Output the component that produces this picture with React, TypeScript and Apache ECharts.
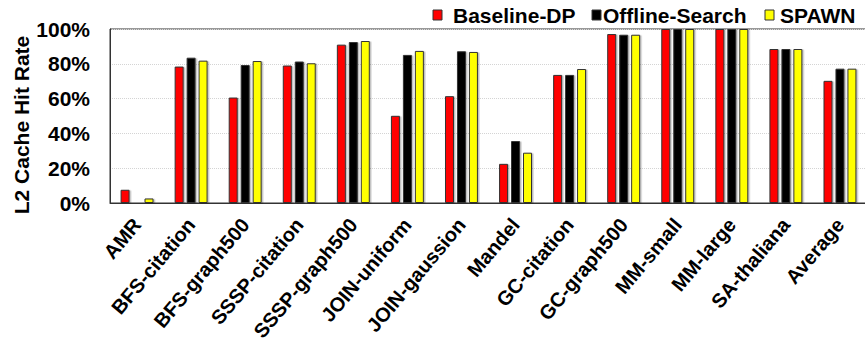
import React, { useEffect, useRef } from "react";
import * as echarts from "echarts";

// Benchmarks on the x axis
const categories = [
  "AMR",
  "BFS-citation",
  "BFS-graph500",
  "SSSP-citation",
  "SSSP-graph500",
  "JOIN-uniform",
  "JOIN-gaussion",
  "Mandel",
  "GC-citation",
  "GC-graph500",
  "MM-small",
  "MM-large",
  "SA-thaliana",
  "Average",
];

// L2 cache hit rate (%) per benchmark
const baselineDP = [7.6, 78.4, 60.6, 79.0, 91.0, 50.1, 61.4, 22.5, 73.6, 97.1, 100, 100, 88.5, 70.2];
const offlineSearch = [0, 83.5, 79.3, 81.3, 92.5, 85.1, 87.2, 35.6, 73.6, 96.7, 100, 100, 88.5, 77.2];
const spawn = [2.6, 81.8, 81.6, 80.3, 93.1, 87.4, 86.8, 28.9, 77.0, 96.7, 100, 100, 88.5, 77.2];

const seriesNames = ["Baseline-DP", "Offline-Search", "SPAWN"];
const seriesColors = ["#ff0000", "#000000", "#ffff00"];
const yTicks = [0, 20, 40, 60, 80, 100];

const FONT = "'Liberation Sans', Arial, Helvetica, sans-serif";
const EDGE = "#333333";

// legend layout: icon x and label x for each entry
const legendIconX = [433, 592, 765];
const legendTextX = [453, 603, 780];

export default function App() {
  const ref = useRef<HTMLDivElement>(null);

  useEffect(() => {
    document.body.style.margin = "0";
    if (!ref.current) return;
    const chart = echarts.init(ref.current, undefined, { renderer: "svg" });

    const values = [baselineDP, offlineSearch, spawn];

    const legendGraphics: any[] = [];
    seriesNames.forEach((name, i) => {
      legendGraphics.push({
        type: "rect",
        x: legendIconX[i],
        y: 10,
        shape: { width: 9, height: 10 },
        style: { fill: seriesColors[i], stroke: EDGE, lineWidth: 1 },
      });
      legendGraphics.push({
        type: "text",
        x: legendTextX[i],
        y: 15,
        style: {
          text: name,
          font: `bold 21px ${FONT}`,
          fill: "#000",
          textAlign: "left",
          textVerticalAlign: "middle",
        },
      });
    });

    chart.setOption({
      animation: false,
      backgroundColor: "#ffffff",
      grid: {
        left: 110,
        top: 29,
        width: 757,
        height: 174,
        show: true,
        borderColor: EDGE,
        borderWidth: 1,
        containLabel: false,
        outerBoundsMode: "none",
      },
      xAxis: {
        type: "category",
        data: categories,
        axisLine: { show: true, lineStyle: { color: EDGE, width: 1 } },
        axisTick: { show: false },
        axisLabel: {
          rotate: 50,
          interval: 0,
          margin: 18,
          hideOverlap: false,
          color: "#000",
          fontFamily: FONT,
          fontWeight: "bold",
          fontSize: 20,
        },
      },
      yAxis: {
        type: "value",
        min: yTicks[0],
        max: yTicks[yTicks.length - 1],
        interval: 20,
        axisLine: { show: true, lineStyle: { color: EDGE, width: 1 } },
        axisTick: { show: false },
        axisLabel: {
          formatter: "{value}%",
          margin: 20,
          color: "#000",
          fontFamily: FONT,
          fontWeight: "bold",
          fontSize: 21,
        },
        splitLine: {
          show: true,
          lineStyle: { color: "#d4d4d4", type: "dotted", width: 1 },
        },
      },
      series: seriesNames.map((name, i) => ({
        name,
        type: "bar",
        data: values[i],
        barWidth: 9,
        barGap: "33%",
        itemStyle: {
          color: seriesColors[i],
          borderColor: EDGE,
          borderWidth: 1,
          shadowColor: "rgba(0,0,0,0.25)",
          shadowOffsetX: 1.5,
          shadowOffsetY: 0.5,
          shadowBlur: 0,
        },
      })),
      graphic: [
        {
          type: "text",
          x: 21,
          y: 125,
          rotation: Math.PI / 2,
          style: {
            text: "L2 Cache Hit Rate",
            font: `bold 21px ${FONT}`,
            fill: "#000",
            textAlign: "center",
            textVerticalAlign: "middle",
          },
        },
        ...legendGraphics,
      ],
    });

    return () => chart.dispose();
  }, []);

  return <div ref={ref} style={{ width: 865, height: 346 }} />;
}
